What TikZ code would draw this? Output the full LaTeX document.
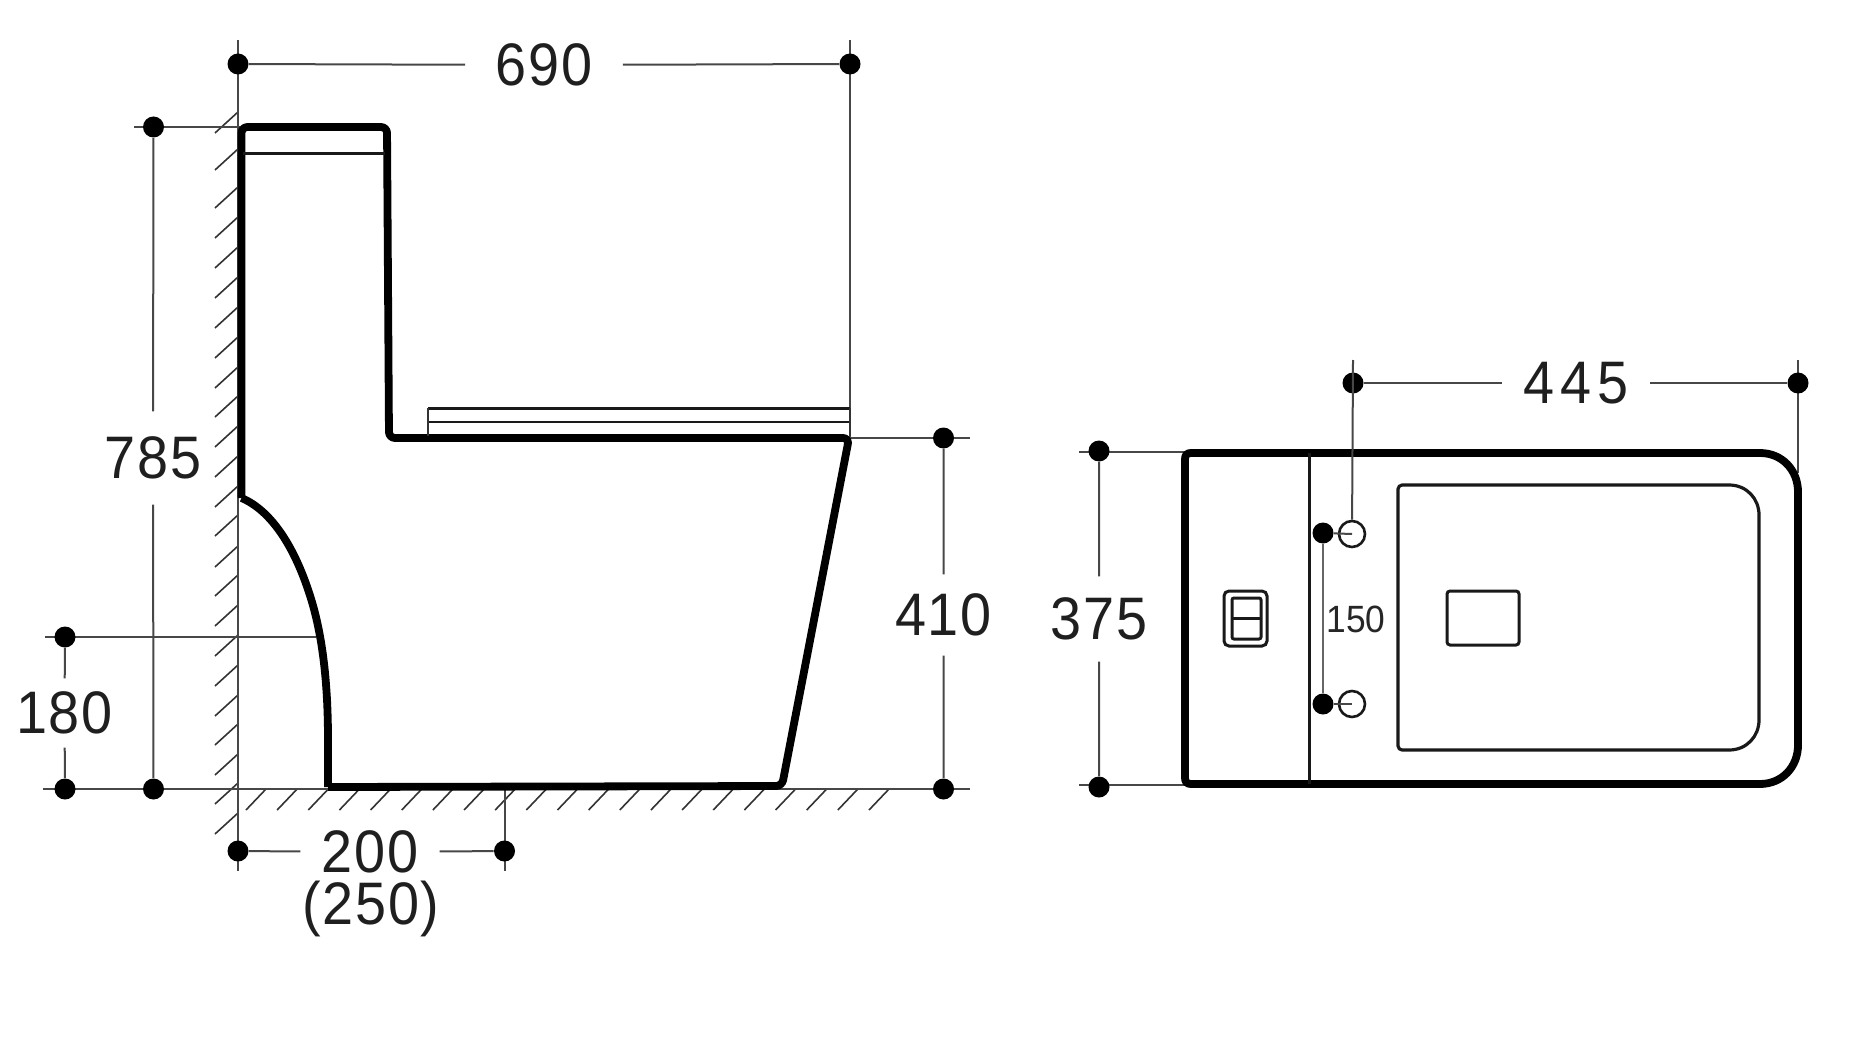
\documentclass[tikz,border=0pt]{standalone}
\usepackage{fontspec}
\setmainfont{Liberation Sans}
\tikzset{
  x=0.5pt,y=-0.5pt,
  dimdot/.style={circle,fill=black,draw=none,minimum size=10.5pt,inner sep=0pt},
  dimline/.style={line width=1pt,draw=black!72},
  hatchline/.style={line width=0.8pt,draw=black!80},
  heavy/.style={line width=3.9pt,draw=black,line join=round},
  medium/.style={line width=1.5pt,draw=black!90},
  dimlabel/.style={font=\fontsize{30}{30}\selectfont\addfontfeature{LetterSpace=3},text=black!88,inner sep=0pt,outer sep=0pt,xscale=0.93},
}
\begin{document}
\begin{tikzpicture}
\useasboundingbox (0,0) rectangle (1872,1048);
\fill[white] (0,0) rectangle (1872,1048);

% ---- hatching of wall and floor
\foreach \y in {133,170,208,238,268,298,328,358,388,417,447,477,507,536,567,596,626,656,686,716,745,775,804,834}
  \draw[hatchline] (238,\y-21) -- (215,\y);
\foreach \i in {0,...,20}
  \draw[hatchline] (246+31.15*\i,810) -- (266+31.15*\i,789);

% ---- free ends of extension lines
\coordinate (wallT) at (238,40);
\coordinate (wallB) at (238,871);
\coordinate (seatT) at (850,40);
\coordinate (seatB) at (850,438);
\coordinate (floorL) at (43,789);
\coordinate (floorR) at (970,789);
\coordinate (topL) at (134,127);
\coordinate (topR) at (240,127);
\coordinate (rimR) at (970,438);
\coordinate (rimL) at (849,438);
\coordinate (outL) at (45,637);
\coordinate (outR) at (316,637);
\coordinate (flrT) at (504.5,789);
\coordinate (flrB) at (504.5,871);
\coordinate (holeT) at (1353,360);
\coordinate (edgeT) at (1798,360);
\coordinate (edgeB) at (1798,473);
\coordinate (planTL) at (1079,452);
\coordinate (planTR) at (1185,452);
\coordinate (planBL) at (1079,785);
\coordinate (planBR) at (1185,785);

\draw[dimline] (wallT) -- (wallB);
\draw[dimline] (seatT) -- (seatB);
\draw[dimline] (floorL) -- (floorR);
\draw[dimline] (topL) -- (topR);
\draw[dimline] (rimL) -- (rimR);
\draw[dimline] (outL) -- (outR);
\draw[dimline] (flrT) -- (flrB);
\draw[dimline] (edgeT) -- (edgeB);
\draw[dimline] (planTL) -- (planTR);
\draw[dimline] (planBL) -- (planBR);

% ---- side view
\draw[heavy,rounded corners=3pt]
  (241.5,498) -- (241.5,127) -- (387,127) -- (389,438) -- (849,438) -- (782,786) -- (328,787);
\draw[heavy]
  (241.5,498) .. controls (270,510) and (295,545) .. (312,602)
  .. controls (322,636) and (328,680) .. (328,740) -- (328,787);
\draw[medium] (243,154) -- (385,154);
\draw[medium] (428,408) -- (850,408);
\draw[line width=1.2pt,draw=black!90] (428,422) -- (850,422);
\draw[line width=1pt,draw=black!80] (428,408) -- (428,436);
\draw[line width=1pt,draw=black!80] (850,408) -- (850,436);

% ---- plan view
\path[draw=black,line width=3.9pt,line join=round]
  (1191,453) -- (1760,453) .. controls (1782,453) and (1798,470) .. (1798,492)
  -- (1798,745) .. controls (1798,767) and (1782,784) .. (1760,784)
  -- (1191,784) .. controls (1187,784) and (1185,782) .. (1185,778)
  -- (1185,459) .. controls (1185,455) and (1187,453) .. (1191,453) -- cycle;
\draw[medium] (1309.5,453) -- (1309.5,784);
\path[draw=black!90,line width=1.6pt,line join=round]
  (1402,485) -- (1729,485) .. controls (1747,485) and (1759,499) .. (1759,515)
  -- (1759,720) .. controls (1759,736) and (1747,750) .. (1729,750)
  -- (1402,750) .. controls (1400,750) and (1398,748) .. (1398,746)
  -- (1398,489) .. controls (1398,487) and (1400,485) .. (1402,485) -- cycle;
\draw[medium,rounded corners=1.5pt] (1447,591) rectangle (1519,645);
\draw[medium,rounded corners=2.5pt] (1224,591) rectangle (1267,646);
\draw[medium,rounded corners=1pt] (1232,598) rectangle (1261,639);
\draw[medium] (1232,618) -- (1261,618);
\node[circle,draw=black!90,line width=1.3pt,minimum size=13pt,inner sep=0pt,fill=white] (holeA) at (1352,534) {};
\node[circle,draw=black!90,line width=1.3pt,minimum size=13pt,inner sep=0pt,fill=white] (holeB) at (1352,704) {};

% ---- dimension dots
\node[dimdot] (d690L) at (238,64) {};
\node[dimdot] (d690R) at (850,64) {};
\node[dimdot] (d785T) at (153.5,127) {};
\node[dimdot] (d785B) at (153.5,789) {};
\node[dimdot] (d180T) at (65,637) {};
\node[dimdot] (d180B) at (65,789) {};
\node[dimdot] (d200L) at (238,851) {};
\node[dimdot] (d200R) at (504.5,851) {};
\node[dimdot] (d410T) at (943.5,438) {};
\node[dimdot] (d410B) at (943.5,789) {};
\node[dimdot] (d445L) at (1353,383) {};
\node[dimdot] (d445R) at (1798,383) {};
\node[dimdot] (d375T) at (1099,451) {};
\node[dimdot] (d375B) at (1099,787) {};
\node[dimdot] (d150T) at (1323,533) {};
\node[dimdot] (d150B) at (1323,704) {};

% ---- dimension labels
\node[dimlabel,inner xsep=16.5pt] (t690) at (544,65) {690};
\node[dimlabel,inner ysep=12.7pt] (t785) at (153,458) {785};
\node[dimlabel,inner ysep=6.7pt] (t180) at (64.5,713) {180};
\node[dimlabel,inner xsep=11.5pt] (t200) at (370,852) {200};
\node[dimlabel] (t250) at (371,909) {(250)};
\node[dimlabel,inner ysep=9.7pt] (t410) at (943.5,615) {410};
\node[dimlabel,inner ysep=10.7pt] (t375) at (1099,619) {375};
\node[dimlabel,inner xsep=12pt] (t445) at (1576,383) {\addfontfeature{LetterSpace=10}445};
\node[inner sep=0pt,text=black!85,font=\fontsize{19}{19}\selectfont,xscale=0.93] (t150) at (1356,619) {150};

% ---- dimension lines
\draw[dimline] (d690L) -- (t690);
\draw[dimline] (t690) -- (d690R);
\draw[dimline] (d785T) -- (t785);
\draw[dimline] (t785) -- (d785B);
\draw[dimline] (d180T) -- (t180);
\draw[dimline] (t180) -- (d180B);
\draw[dimline] (d200L) -- (t200);
\draw[dimline] (t200) -- (d200R);
\draw[dimline] (d410T) -- (t410);
\draw[dimline] (t410) -- (d410B);
\draw[dimline] (d445L) -- (t445);
\draw[dimline] (t445) -- (d445R);
\draw[dimline] (d375T) -- (t375);
\draw[dimline] (t375) -- (d375B);
\draw[line width=1.4pt,draw=black!60] (d150T) -- (d150B);
\draw[dimline] (holeT) -- (holeA);
\draw[dimline] (d150T) -- (holeA.center);
\draw[dimline] (d150B) -- (holeB.center);
\end{tikzpicture}
\end{document}
